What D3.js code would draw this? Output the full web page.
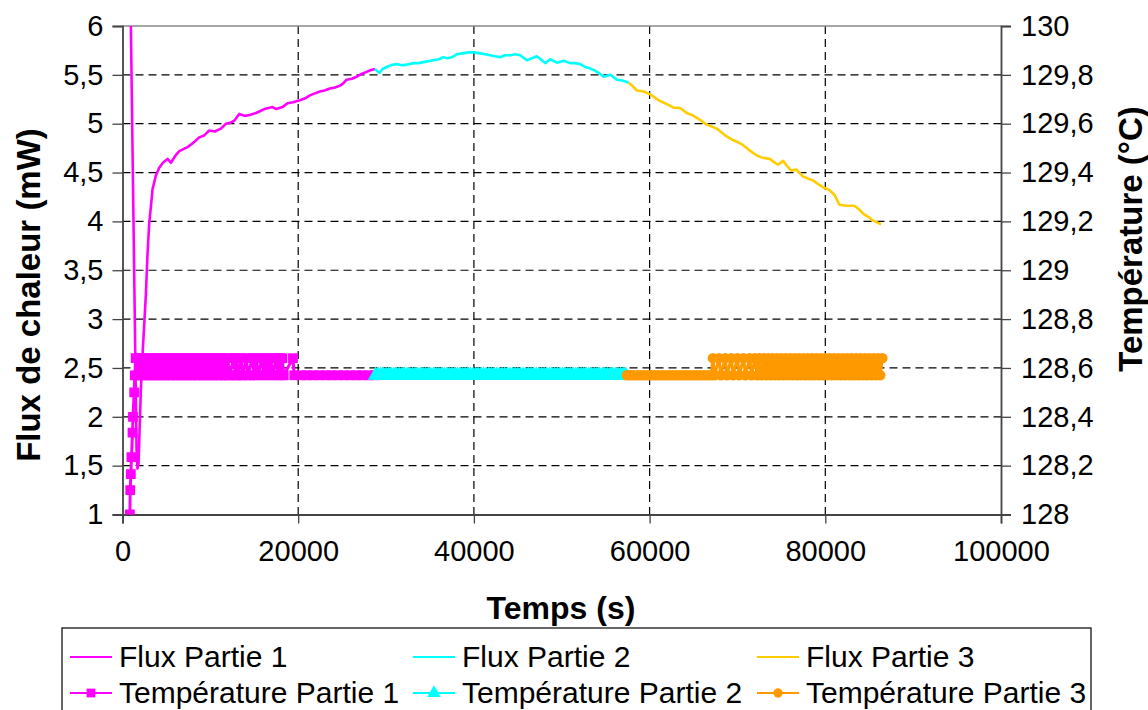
<!DOCTYPE html>
<html>
<head>
<meta charset="utf-8">
<script src="https://cdn.jsdelivr.net/npm/d3@7"></script>
<style>
  html, body { margin: 0; padding: 0; background: #fff; }
  svg { display: block; font-family: "Liberation Sans", Arial, sans-serif; }
</style>
</head>
<body>
<svg id="chart" width="1148" height="710"></svg>
<script>
// ---------- DATA ----------
const xTicks = [0, 20000, 40000, 60000, 80000, 100000];
const yLeftTicks = [1, 1.5, 2, 2.5, 3, 3.5, 4, 4.5, 5, 5.5, 6];
const yRightTicks = [128, 128.2, 128.4, 128.6, 128.8, 129, 129.2, 129.4, 129.6, 129.8, 130];

const seriesNames = ["Flux Partie 1", "Flux Partie 2", "Flux Partie 3",
                     "Température Partie 1", "Température Partie 2", "Température Partie 3"];

// Flux (mW) vs time (s)
const flux1 = [[900,6.36],[1600,1.66],[1710,1.47],[1825,1.52],[2090,2.28],[2280,2.63],[2660,3.25],
  [2850,3.67],[3040,3.98],[3230,4.15],[3420,4.33],[3800,4.47],[4180,4.55],[4600,4.60],[5130,4.64],
  [5510,4.60],[6000,4.67],[6460,4.72],[7400,4.76],[8000,4.80],[8730,4.86],[9300,4.88],[9870,4.93],
  [10500,4.92],[11200,4.95],[11780,5.00],[12300,5.01],[12720,5.03],[13290,5.10],[13900,5.08],
  [14500,5.09],[15190,5.11],[15700,5.13],[16140,5.15],[17090,5.17],[17500,5.15],[18200,5.17],
  [18790,5.21],[19400,5.22],[20190,5.24],[20800,5.26],[21330,5.29],[21900,5.31],[22470,5.33],
  [23000,5.34],[23610,5.36],[24200,5.37],[24750,5.39],[25100,5.41],[25510,5.45],[26100,5.46],
  [26650,5.48],[27200,5.51],[27790,5.53],[28300,5.55],[28740,5.56]];
const flux2 = [[28740,5.56],[29230,5.52],[29600,5.56],[30070,5.58],[30600,5.60],[31210,5.61],
  [31700,5.60],[32160,5.60],[33110,5.62],[33700,5.62],[34250,5.63],[35390,5.65],[36000,5.66],
  [36530,5.68],[37000,5.67],[37480,5.68],[38050,5.71],[38700,5.72],[39380,5.73],[40000,5.73],
  [40710,5.72],[41300,5.71],[41850,5.70],[42400,5.69],[42990,5.68],[43500,5.70],[44130,5.70],
  [44700,5.71],[45270,5.70],[46030,5.65],[46600,5.67],[47170,5.69],[47600,5.66],[48120,5.62],
  [48690,5.66],[49450,5.625],[50210,5.645],[50970,5.62],[51500,5.62],[52110,5.61],[52680,5.58],
  [53100,5.57],[53630,5.55],[54200,5.52],[54770,5.48],[55530,5.50],[56290,5.45],[57000,5.44],
  [57620,5.42]];
const flux3 = [[57620,5.42],[58100,5.38],[58560,5.34],[59320,5.33],[60080,5.30],[61020,5.24],
  [61970,5.20],[62720,5.165],[63480,5.16],[64230,5.11],[64800,5.09],[65370,5.06],[65900,5.03],
  [66500,4.99],[67100,4.97],[67640,4.95],[68200,4.91],[68770,4.87],[69530,4.83],[70100,4.81],
  [70660,4.78],[71200,4.74],[71790,4.70],[72300,4.67],[72930,4.65],[73680,4.64],[74100,4.61],
  [74630,4.58],[75200,4.62],[75700,4.56],[76140,4.52],[76710,4.53],[77460,4.46],[78000,4.44],
  [78600,4.42],[79200,4.38],[79730,4.35],[80490,4.32],[81050,4.27],[81620,4.17],[82380,4.16],
  [83320,4.16],[83890,4.12],[84300,4.08],[84650,4.06],[85000,4.04],[85400,4.01],[85900,3.99],
  [86350,3.97]];

// Temperature (°C) vs time (s)
const temp1 = [[840,128.00],[880,128.10],[950,128.165],[1020,128.235],[1140,128.335],[1190,128.40],
  [1330,128.50],[1400,128.57],
  [1500,128.64],[1750,128.57],[2000,128.64],[2250,128.57],[2500,128.64],[2750,128.57],[3000,128.64],
  [3250,128.57],[3500,128.64],[3750,128.57],[4000,128.64],[4250,128.57],[4500,128.64],[4750,128.57],
  [5000,128.64],[5250,128.57],[5500,128.64],[5750,128.57],[6000,128.64],[6250,128.57],[6500,128.64],
  [6750,128.57],[7000,128.64],[7250,128.57],[7500,128.64],[7750,128.57],[8000,128.64],[8250,128.57],
  [8500,128.64],[8750,128.57],[9000,128.64],[9250,128.57],[9500,128.64],[9750,128.57],[10000,128.64],
  [10250,128.57],[10500,128.64],[10750,128.57],[11000,128.64],[11250,128.57],[11500,128.64],
  [11750,128.57],
  [12000,128.64],[12150,128.57],[12700,128.64],[12850,128.57],[12950,128.64],[13100,128.57],
  [13500,128.64],[13650,128.57],[14100,128.64],[14250,128.57],[14800,128.64],[14950,128.57],
  [15250,128.64],[15400,128.57],[15900,128.64],[16050,128.57],[16400,128.64],[16550,128.57],
  [16900,128.64],[17050,128.57],[17500,128.64],[17650,128.57],[17850,128.64],[18000,128.57],
  [18200,128.64],[18350,128.57],[19400,128.64],[19550,128.57],
  [20300,128.57],[21000,128.57],[21700,128.57],[22400,128.57],[23100,128.57],[23800,128.57],
  [24500,128.57],[25200,128.57],[25900,128.57],[26600,128.57],[27300,128.57],[28000,128.57],
  [28700,128.57]];
const temp2 = [[28800,128.57],[29100,128.57],[29400,128.57],[29700,128.57],[30000,128.57],
  [30300,128.57],[30600,128.57],[30900,128.57],[31200,128.57],[31500,128.57],[31800,128.57],
  [32100,128.57],[32400,128.57],[32700,128.57],[33000,128.57],[33300,128.57],[33600,128.57],
  [33900,128.57],[34200,128.57],[34500,128.57],[34800,128.57],[35100,128.57],[35400,128.57],
  [35700,128.57],[36000,128.57],[36300,128.57],[36600,128.57],[36900,128.57],[37200,128.57],
  [37500,128.57],[37800,128.57],[38100,128.57],[38400,128.57],[38700,128.57],[39000,128.57],
  [39300,128.57],[39600,128.57],[39900,128.57],[40200,128.57],[40500,128.57],[40800,128.57],
  [41100,128.57],[41400,128.57],[41700,128.57],[42000,128.57],[42300,128.57],[42600,128.57],
  [42900,128.57],[43200,128.57],[43500,128.57],[43800,128.57],[44100,128.57],[44400,128.57],
  [44700,128.57],[45000,128.57],[45300,128.57],[45600,128.57],[45900,128.57],[46200,128.57],
  [46500,128.57],[46800,128.57],[47100,128.57],[47400,128.57],[47700,128.57],[48000,128.57],
  [48300,128.57],[48600,128.57],[48900,128.57],[49200,128.57],[49500,128.57],[49800,128.57],
  [50100,128.57],[50400,128.57],[50700,128.57],[51000,128.57],[51300,128.57],[51600,128.57],
  [51900,128.57],[52200,128.57],[52500,128.57],[52800,128.57],[53100,128.57],[53400,128.57],
  [53700,128.57],[54000,128.57],[54300,128.57],[54600,128.57],[54900,128.57],[55200,128.57],
  [55500,128.57],[55800,128.57],[56100,128.57],[56400,128.57],[56700,128.57],[57000,128.57],
  [57300,128.57]];
const temp3 = [[57400,128.57],[57800,128.57],[58200,128.57],[58600,128.57],[59000,128.57],
  [59400,128.57],[59800,128.57],[60200,128.57],[60600,128.57],[61000,128.57],[61400,128.57],
  [61800,128.57],[62200,128.57],[62600,128.57],[63000,128.57],[63400,128.57],[63800,128.57],
  [64200,128.57],[64600,128.57],[65000,128.57],[65400,128.57],[65800,128.57],[66200,128.57],
  [66600,128.57],[67000,128.57],
  [67200,128.64],[67400,128.57],[67900,128.64],[68100,128.57],[68600,128.64],[68800,128.57],
  [69300,128.64],[69500,128.57],[70000,128.64],[70200,128.57],[70700,128.64],[70900,128.57],
  [71400,128.64],[71600,128.57],
  [72000,128.64],[72250,128.57],[72500,128.64],[72750,128.57],[73000,128.64],[73250,128.57],
  [73500,128.64],[73750,128.57],[74000,128.64],[74250,128.57],[74500,128.64],[74750,128.57],
  [75000,128.64],[75250,128.57],[75500,128.64],[75750,128.57],[76000,128.64],[76250,128.57],
  [76500,128.64],[76750,128.57],[77000,128.64],[77250,128.57],[77500,128.64],[77750,128.57],
  [78000,128.64],[78250,128.57],[78500,128.64],[78750,128.57],[79000,128.64],[79250,128.57],
  [79500,128.64],[79750,128.57],[80000,128.64],[80250,128.57],[80500,128.64],[80750,128.57],
  [81000,128.64],[81250,128.57],[81500,128.64],[81750,128.57],[82000,128.64],[82250,128.57],
  [82500,128.64],[82750,128.57],[83000,128.64],[83250,128.57],[83500,128.64],[83750,128.57],
  [84000,128.64],[84250,128.57],[84500,128.64],[84750,128.57],[85000,128.64],[85250,128.57],
  [85500,128.64],[85750,128.57],[86000,128.64],[86250,128.57],[86500,128.64]];

// ---------- STYLE ----------
const colors = ["#FF00FF", "#00FFFF", "#FFCC00", "#FF00FF", "#00FFFF", "#FF9900"];
const markers = [null, null, null, d3.symbolSquare, d3.symbolTriangle, d3.symbolCircle];
const markerSizes = [0, 0, 0, 96, 100, 85];
const lineWidths = [2.6, 2.6, 2.6, 3, 3, 3];

// ---------- LAYOUT ----------
const svg = d3.select("#chart");
const plot = { left: 122.5, right: 1001, top: 26, bottom: 514.5 };

const x = d3.scaleLinear().domain([0, 100000]).range([plot.left, plot.right]);
const yL = d3.scaleLinear().domain([1, 6]).range([plot.bottom, plot.top]);
const yR = d3.scaleLinear().domain([128, 130]).range([plot.bottom, plot.top]);

const fmt = d => String(+d.toFixed(1)).replace(".", ",");

// clip
svg.append("defs").append("clipPath").attr("id", "clip")
  .append("rect").attr("x", plot.left).attr("y", plot.top)
  .attr("width", plot.right - plot.left).attr("height", plot.bottom - plot.top);

// grid
const grid = svg.append("g");
grid.selectAll("line.h").data(yLeftTicks.filter(v => v > 1 && v < 6)).join("line")
  .attr("x1", plot.left).attr("x2", plot.right)
  .attr("y1", d => yL(d)).attr("y2", d => yL(d))
  .attr("stroke", "#000").attr("stroke-width", 1.2).attr("stroke-dasharray", "8,5");
grid.selectAll("line.v").data(xTicks.filter(v => v > 0 && v < 100000)).join("line")
  .attr("y1", plot.top).attr("y2", plot.bottom)
  .attr("x1", d => x(d)).attr("x2", d => x(d))
  .attr("stroke", "#000").attr("stroke-width", 1.2).attr("stroke-dasharray", "8,5");
// top border
svg.append("line").attr("x1", plot.left).attr("x2", plot.right)
  .attr("y1", plot.top).attr("y2", plot.top).attr("stroke", "#888").attr("stroke-width", 1.5);

// axes
const axisStyle = g => {
  g.selectAll("path.domain").attr("stroke", "#444").attr("stroke-width", 1.8);
  g.selectAll(".tick line").attr("stroke", "#444").attr("stroke-width", 1.3);
  g.selectAll(".tick text").attr("font-size", 29).attr("fill", "#000")
    .attr("font-family", "'Liberation Sans', Arial, sans-serif");
};
svg.append("g").attr("transform", `translate(${plot.left},0)`)
  .call(d3.axisLeft(yL).tickValues(yLeftTicks).tickFormat(fmt).tickSizeOuter(0).tickSize(10).tickPadding(9))
  .call(axisStyle);
svg.append("g").attr("transform", `translate(${plot.right},0)`)
  .call(d3.axisRight(yR).tickValues(yRightTicks).tickFormat(fmt).tickSizeOuter(0).tickSize(10).tickPadding(10))
  .call(axisStyle);
svg.append("g").attr("transform", `translate(0,${plot.bottom})`)
  .call(d3.axisBottom(x).tickValues(xTicks).tickFormat(d3.format("d")).tickSizeOuter(0).tickSize(9).tickPadding(17))
  .call(axisStyle);

// axis titles
svg.append("text").attr("transform", `translate(40,295) rotate(-90)`)
  .attr("text-anchor", "middle").attr("font-size", 33).attr("font-weight", "bold")
  .text("Flux de chaleur (mW)");
svg.append("text").attr("transform", `translate(1142,239) rotate(-90)`)
  .attr("text-anchor", "middle").attr("font-size", 33).attr("font-weight", "bold")
  .text("Température (°C)");
svg.append("text").attr("x", 561).attr("y", 619)
  .attr("text-anchor", "middle").attr("font-size", 32).attr("font-weight", "bold")
  .text("Temps (s)");

// series
const series = [
  { data: flux1, y: yL }, { data: flux2, y: yL }, { data: flux3, y: yL },
  { data: temp1, y: yR }, { data: temp2, y: yR }, { data: temp3, y: yR }
];
const plotG = svg.append("g").attr("clip-path", "url(#clip)");
series.forEach((s, i) => {
  const line = d3.line().x(d => x(d[0])).y(d => s.y(d[1]));
  plotG.append("path").datum(s.data)
    .attr("fill", "none").attr("stroke", colors[i]).attr("stroke-width", lineWidths[i])
    .attr("stroke-linejoin", "round").attr("d", line);
  if (markers[i]) {
    const sym = d3.symbol().type(markers[i]).size(markerSizes[i]);
    plotG.append("g").selectAll("path").data(s.data).join("path")
      .attr("transform", d => `translate(${x(d[0])},${s.y(d[1])})`)
      .attr("d", sym).attr("fill", colors[i]);
  }
});

// legend
const lg = svg.append("g");
lg.append("rect").attr("x", 62).attr("y", 628).attr("width", 1029).attr("height", 90)
  .attr("fill", "#fff").attr("stroke", "#000").attr("stroke-width", 1.2);
const legCols = [70, 413, 757];
const legRows = [657, 693];
seriesNames.forEach((name, i) => {
  const cx = legCols[i % 3], cy = legRows[Math.floor(i / 3)];
  lg.append("line").attr("x1", cx).attr("x2", cx + 42).attr("y1", cy).attr("y2", cy)
    .attr("stroke", colors[i]).attr("stroke-width", 2.2);
  if (markers[i]) {
    lg.append("path").attr("transform", `translate(${cx + 21},${cy})`)
      .attr("d", d3.symbol().type(markers[i]).size(markerSizes[i] * 0.8)()).attr("fill", colors[i]);
  }
  lg.append("text").attr("x", cx + 49).attr("y", cy + 10).attr("font-size", 30).text(name);
});
</script>
</body>
</html>
